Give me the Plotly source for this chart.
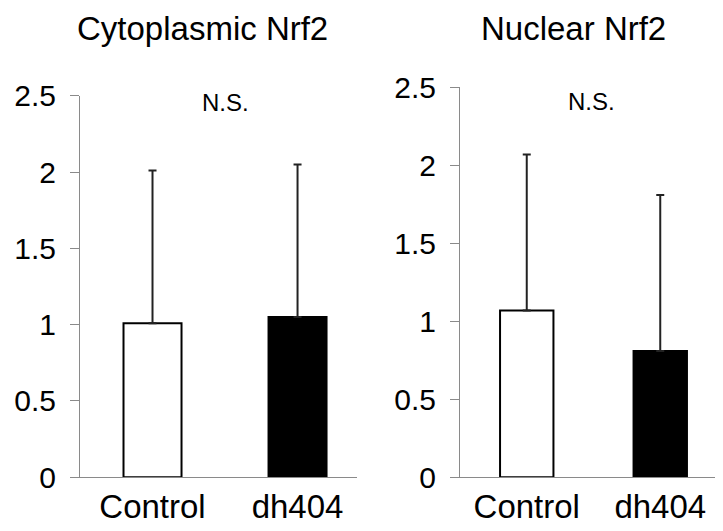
import plotly.graph_objects as go

categories = ["Control", "dh404"]
cyto_values = [1.01, 1.05]
cyto_errors = [1.00, 1.00]
nuclear_values = [1.07, 0.81]
nuclear_errors = [1.00, 1.00]
bar_colors = ["white", "black"]
y_ticks = [0, 0.5, 1, 1.5, 2, 2.5]
y_tick_labels = ["0", "0.5", "1", "1.5", "2", "2.5"]
titles = ["Cytoplasmic Nrf2", "Nuclear Nrf2"]
sig_label = "N.S."

# the page body has an 8px margin; size the figure to fill the rest of the window
OFF = 8
W, H = 723 - OFF, 531 - OFF
FONT = "Liberation Sans, Arial, sans-serif"

def px_x(v):
    return (v - OFF) / W

def px_y(v):
    return 1 - (v - OFF) / H

fig = go.Figure()

for vals, errs, xa, ya in [(cyto_values, cyto_errors, "x", "y"),
                           (nuclear_values, nuclear_errors, "x2", "y2")]:
    fig.add_trace(go.Bar(
        x=categories, y=vals, xaxis=xa, yaxis=ya, width=0.4,
        marker=dict(color=bar_colors, line=dict(color="black", width=2)),
        error_y=dict(type="data", array=errs, arrayminus=[0] * len(errs),
                     symmetric=False, color="#222222", thickness=2, width=4),
        showlegend=False,
    ))

axis_common = dict(showgrid=False, zeroline=False, showline=True,
                   linecolor="#8a8a8a", linewidth=1, automargin=False)
yaxis_common = dict(axis_common, range=[0, 2.5], tickvals=y_ticks,
                    ticktext=y_tick_labels, ticks="outside", ticklen=9,
                    tickcolor="#8a8a8a", tickwidth=1,
                    tickfont=dict(family=FONT, size=30, color="black"),
                    ticklabelstandoff=8)
xaxis_common = dict(axis_common, ticks="", type="category",
                    tickfont=dict(family=FONT, size=33, color="black"),
                    ticklabelstandoff=0)

fig.update_layout(
    width=W, height=H,
    margin=dict(l=0, r=0, t=0, b=0, pad=0, autoexpand=False),
    paper_bgcolor="white", plot_bgcolor="white",
    xaxis=dict(xaxis_common, domain=[px_x(80), px_x(357)], range=[-0.5, 1.41], anchor="y"),
    yaxis=dict(yaxis_common, domain=[px_y(477.3), px_y(95.7)], anchor="x"),
    xaxis2=dict(xaxis_common, domain=[px_x(460), 1.0], range=[-0.5, 1.47], anchor="y2"),
    yaxis2=dict(yaxis_common, domain=[px_y(477.3), px_y(87.3)], anchor="x2"),
    annotations=[
        dict(text=titles[0], x=px_x(203), y=1, xref="paper", yref="paper",
             xanchor="center", yanchor="top", showarrow=False,
             font=dict(family=FONT, size=33, color="black")),
        dict(text=titles[1], x=px_x(573), y=1, xref="paper", yref="paper",
             xanchor="center", yanchor="top", showarrow=False,
             font=dict(family=FONT, size=33, color="black")),
        dict(text=sig_label, x=px_x(225), y=px_y(103), xref="paper", yref="paper",
             xanchor="center", yanchor="middle", showarrow=False,
             font=dict(family=FONT, size=24, color="black")),
        dict(text=sig_label, x=px_x(591), y=px_y(102), xref="paper", yref="paper",
             xanchor="center", yanchor="middle", showarrow=False,
             font=dict(family=FONT, size=24, color="black")),
    ],
)

fig.write_html("out.html")
